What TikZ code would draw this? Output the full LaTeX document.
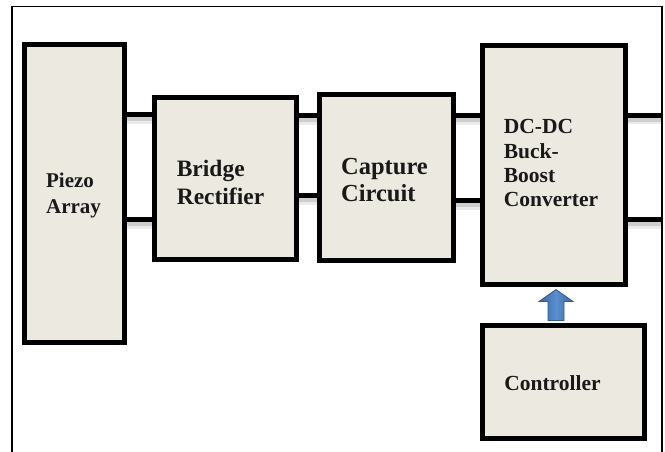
\documentclass[tikz,border=0pt]{standalone}
\usepackage{fontspec}
\setmainfont{Liberation Serif}
\usetikzlibrary{calc}
\definecolor{boxfill}{HTML}{ECEAE0}
\definecolor{arrowdark}{HTML}{3A67A0}
\definecolor{arrowlight}{HTML}{5B8FD0}
\definecolor{arrowedge}{HTML}{2E5A90}
% left-aligned lines, moved right by #1 and down by #2 without changing the box size
\newcommand\placed[3]{\hspace*{#1}\raisebox{-#2}[\height][\depth]{\begin{tabular}{@{}l@{}}#3\end{tabular}}\hspace*{-#1}}
\begin{document}
\begin{tikzpicture}[x=1pt,y=-1pt,
  block/.style={draw=black, line width=5pt, fill=boxfill, rectangle,
    inner sep=0pt, text=black!90},
  wire/.style={draw=black, line width=5pt,
    preaction={draw=black, opacity=0.08, line width=8pt, transform canvas={yshift=-5pt}},
    preaction={draw=black, opacity=0.12, line width=4pt, transform canvas={yshift=-4.5pt}}},
  frame/.style={draw=black, line width=1.3pt}]
  \useasboundingbox (0,0) rectangle (665,451);

  % outer frame (open at the bottom)
  \draw[frame] (12,460) |- (662,6.5) coordinate (fr) -- (662,460);

  % blocks
  \node[block, minimum width=100, minimum height=298,
        font={\bfseries\fontsize{21}{26}\selectfont}] (piezo) at (74.5,193.5)
    {\placed{-1pt}{1.5pt}{Piezo\\Array}};
  \node[block, minimum width=142, minimum height=162,
        font={\bfseries\fontsize{23.5}{28}\selectfont}] (bridge) at (225.5,178.5)
    {\placed{-5pt}{6pt}{Bridge\\Rectifier}};
  \node[block, minimum width=134, minimum height=166,
        font={\bfseries\fontsize{24.5}{27}\selectfont}] (capture) at (386.5,177.5)
    {\placed{-2pt}{5pt}{Capture\\Circuit}};
  \node[block, minimum width=143, minimum height=239,
        font={\bfseries\fontsize{21.5}{24.4}\selectfont}] (dcdc) at (554,165)
    {\placed{-3pt}{0.5pt}{DC-DC\\Buck-\\Boost\\Converter}};
  \node[block, minimum width=162, minimum height=113,
        font={\bfseries\fontsize{21.5}{25}\selectfont}] (ctrl) at (563.5,382)
    {\placed{-11pt}{3pt}{Controller}};

  % power lines between blocks
  \draw[wire] (piezo.east |- 0,114.5) -- (bridge.west |- 0,114.5);
  \draw[wire] (piezo.east |- 0,219.5) -- (bridge.west |- 0,219.5);
  \draw[wire] (bridge.east |- 0,115.5) -- (capture.west |- 0,115.5);
  \draw[wire] (bridge.east |- 0,195.5) -- (capture.west |- 0,195.5);
  \draw[wire] (capture.east |- 0,115.5) -- (dcdc.west |- 0,115.5);
  \draw[wire] (capture.east |- 0,200.5) -- (dcdc.west |- 0,200.5);
  \coordinate (outA) at (fr |- 0,115);
  \coordinate (outB) at (fr |- 0,219.5);
  \draw[wire] (dcdc.east |- outA) -- (outA);
  \draw[wire] (dcdc.east |- outB) -- (outB);

  % block arrow from the controller up to the converter
  \coordinate (atail) at ($(ctrl.north -| 556,0)+(0,-2.5)$);
  \coordinate (ahead) at ($(dcdc.south -| 556,0)+(0,2.5)$);
  \path[draw=arrowedge, line width=0.8pt,
        left color=arrowdark, right color=arrowdark, middle color=arrowlight]
    ($(atail)+(-8,0)$) -- ($(ahead)+(-8,12)$) -- ($(ahead)+(-17,12)$) -- (ahead)
    -- ($(ahead)+(17,12)$) -- ($(ahead)+(8,12)$) -- ($(atail)+(8,0)$) -- cycle;
\end{tikzpicture}
\end{document}
